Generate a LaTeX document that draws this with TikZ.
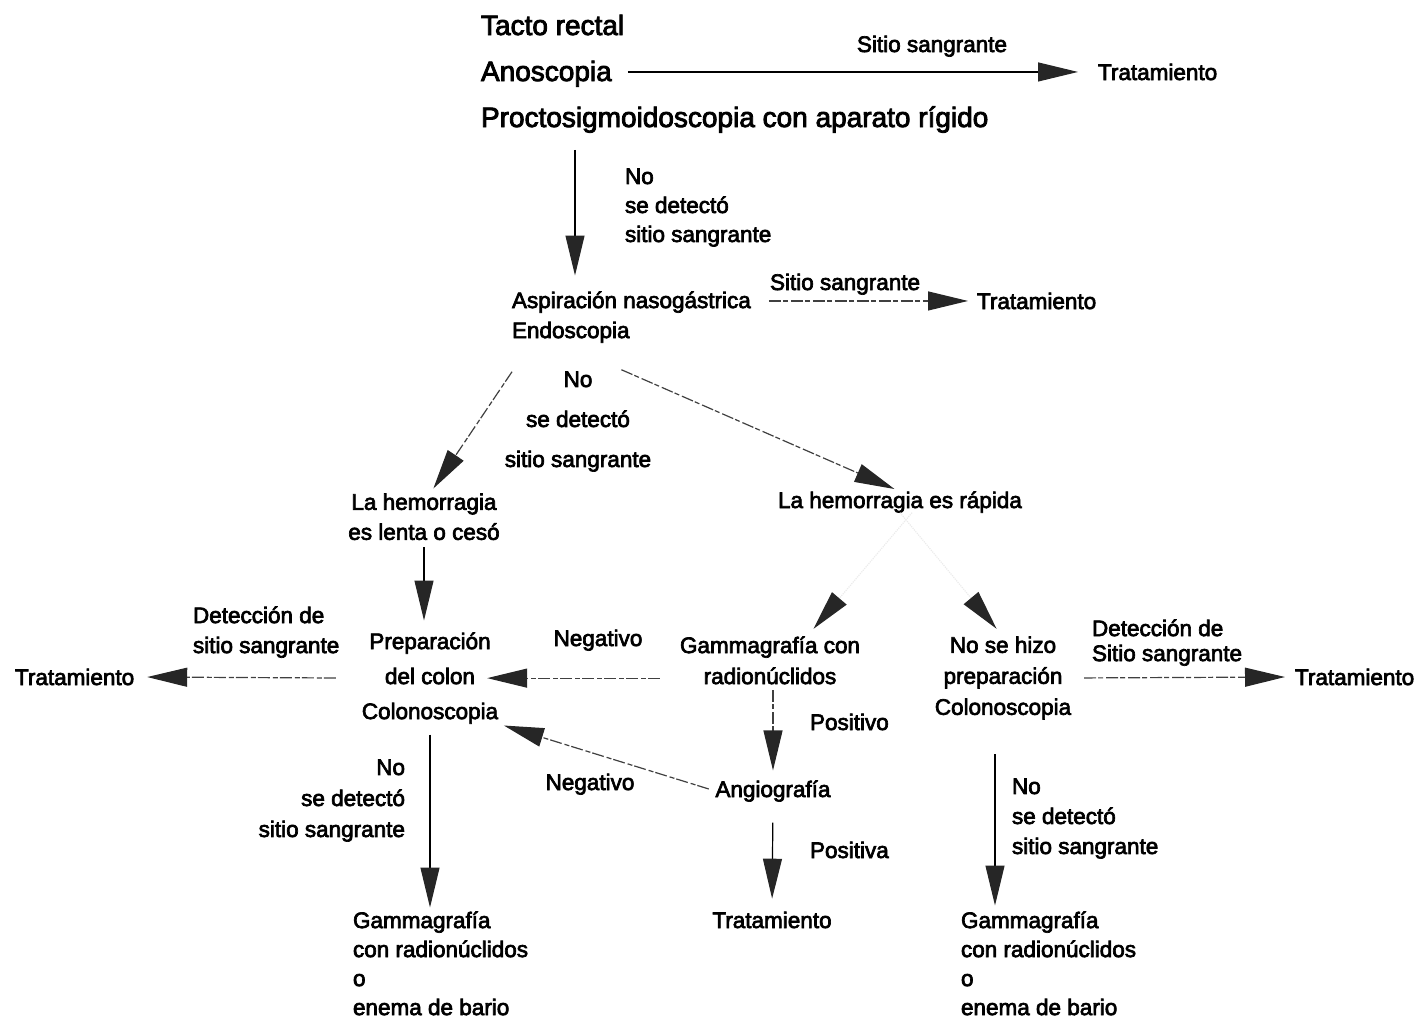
\documentclass[tikz,border=0pt]{standalone}
\usepackage{fontspec}
\newfontfamily\scanfont{Liberation Sans}[FakeBold=3]
\usetikzlibrary{arrows.meta}

\begin{document}
\begin{tikzpicture}[
    x=1pt, y=-1pt,
    txt/.style={font=\scanfont\fontsize{22.5}{30}\selectfont, inner sep=0pt, outer sep=0pt},
    big/.style={txt, font=\scanfont\fontsize{28}{34}\selectfont},
    rows/.style={font=\scanfont\fontsize{22.5}{#1}\selectfont},
    arr/.style={-{Triangle[length=40pt,width=19pt,color=black!85]}, line width=1.2pt},
    broken/.style={arr, draw=black!75, dash pattern=on 12pt off 2pt on 5pt off 3pt},
    faint/.style={arr, draw=black!8, densely dotted},
    ]
    \useasboundingbox (0,0) rectangle (1417,1021);

    % first exams
    \node [big, at={(481,35)}, anchor=base west] (tacto) {Tacto rectal};
    \node [big, at={(481,81)}, anchor=base west] (anosc) {Anoscopia};
    \node [big, at={(481,127)}, anchor=base west] (procto) {Proctosigmoidoscopia con aparato rígido};
    \node [txt, at={(1098,80)}, anchor=base west] (trat1) {Tratamiento};
    \node [txt, at={(932,52)}, anchor=base] (sit1) {Sitio sangrante};
    \node [txt, rows=29, align=left, at={(625,168.5)}, anchor=north west] (nodet1) {No\\se detectó\\sitio sangrante};

    % upper endoscopy
    \node [txt, rows=30, align=left, at={(512,291.5)}, anchor=north west] (aspir) {Aspiración nasogástrica\\Endoscopia};
    \node [txt, at={(977,309)}, anchor=base west] (trat2) {Tratamiento};
    \node [txt, at={(770,290)}, anchor=base west] (sit2) {Sitio sangrante};
    \node [txt, rows=40, align=center, at={(578,371.5)}, anchor=north] (nodet2) {No\\se detectó\\sitio sangrante};
    \node [txt, rows=30, align=center, at={(424,493.5)}, anchor=north] (lenta) {La hemorragia\\es lenta o cesó};
    \node [txt, at={(900,508)}, anchor=base] (rapida) {La hemorragia es rápida};

    % middle row
    \node [txt, rows=35, align=center, at={(430,632.5)}, anchor=north] (prep) {Preparación\\del colon\\Colonoscopia};
    \node [txt, at={(15,685)}, anchor=base west] (tratL) {Tratamiento};
    \node [txt, rows=30, align=left, at={(193,606.5)}, anchor=north west] (detL) {Detección de\\sitio sangrante};
    \node [txt, at={(598,646)}, anchor=base] (neg1) {Negativo};
    \node [txt, rows=31, align=center, at={(770,636.5)}, anchor=north] (gamma) {Gammagrafía con\\radionúclidos};
    \node [txt, rows=31, align=center, at={(1003,636.5)}, anchor=north] (nohizo) {No se hizo\\preparación\\Colonoscopia};
    \node [txt, rows=25, align=left, at={(1092,619.5)}, anchor=north west] (detR) {Detección de\\Sitio sangrante};
    \node [txt, at={(1295,685)}, anchor=base west] (tratR) {Tratamiento};

    % lower part
    \node [txt, at={(810,730)}, anchor=base west] (pos1) {Positivo};
    \node [txt, at={(773,797)}, anchor=base] (angio) {Angiografía};
    \node [txt, at={(590,790)}, anchor=base] (neg2) {Negativo};
    \node [txt, at={(810,858)}, anchor=base west] (pos2) {Positiva};
    \node [txt, at={(772,928)}, anchor=base] (tratB) {Tratamiento};
    \node [txt, rows=31, align=right, at={(405,759.5)}, anchor=north east] (nodetL) {No\\se detectó\\sitio sangrante};
    \node [txt, rows=30, align=left, at={(1012,778.5)}, anchor=north west] (nodetR) {No\\se detectó\\sitio sangrante};
    \node [txt, rows=29, align=left, at={(353,911.5)}, anchor=north west] (gamL) {Gammagrafía\\con radionúclidos\\o\\enema de bario};
    \node [txt, rows=29, align=left, at={(961,911.5)}, anchor=north west] (gamR) {Gammagrafía\\con radionúclidos\\o\\enema de bario};

    % connectors
    \draw [arr, shorten <=16pt, shorten >=20pt] (anosc.east |- trat1.west) -- (trat1.west);
    \draw [arr, shorten <=17pt, shorten >=16pt] ([xshift=94pt]procto.south west) -- ([xshift=63pt]aspir.north west);
    \draw [broken, shorten <=18pt, shorten >=9pt] (aspir.north east |- trat2.west) -- (trat2.west);
    \draw [broken, shorten >=6pt] ([yshift=-29pt]aspir.south west) -- ([xshift=6pt]lenta.north);
    \draw [broken, shorten >=6pt] ([xshift=-10pt,yshift=-27pt]aspir.south) -- (rapida.north);
    \draw [arr, shorten <=7pt, shorten >=12pt] (lenta.south) -- (lenta.south |- prep.north);
    \draw [broken, shorten <=26pt, shorten >=13pt] (prep.west) -- (tratL.east);
    \draw [broken, shorten <=20pt] (gamma.west |- prep.west) -- ([xshift=-11pt]prep.east);
    \draw [broken, shorten <=7pt, shorten >=6pt] (angio.west) -- (prep.south east);
    \draw [faint, shorten >=10pt] ([xshift=12pt]rapida.south) -- ([xshift=37pt]gamma.north);
    \draw [faint, shorten >=10pt] (rapida.south) -- (nohizo.north);
    \draw [broken, shorten <=13pt, shorten >=10pt] (nohizo.east) -- (tratR.west);
    \draw [broken, shorten <=6pt, shorten >=10pt] (angio.north |- gamma.south) -- (angio.north);
    \draw [arr, shorten <=21pt, shorten >=13pt] (angio.south) -- (tratB.north);
    \draw [arr, shorten <=11pt, shorten >=4pt] (prep.south) -- (prep.south |- gamL.north);
    \draw [arr, shorten <=35pt, shorten >=6pt] ([xshift=-8pt]nohizo.south) -- ([xshift=-8pt]nohizo.south |- gamR.north);
\end{tikzpicture}
\end{document}
